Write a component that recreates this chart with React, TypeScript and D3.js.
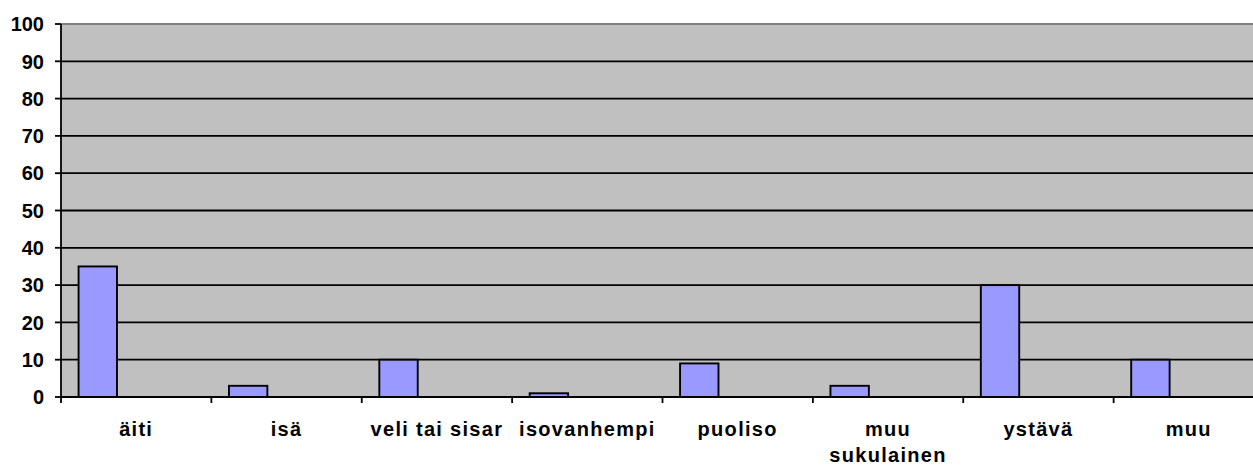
import React from "react";
import * as d3 from "d3";

const categories: string[][] = [
  ["äiti"],
  ["isä"],
  ["veli tai sisar"],
  ["isovanhempi"],
  ["puoliso"],
  ["muu", "sukulainen"],
  ["ystävä"],
  ["muu"],
];
const values: number[] = [35, 3, 10, 1, 9, 3, 30, 10];
const yTicks: number[] = [0, 10, 20, 30, 40, 50, 60, 70, 80, 90, 100];

const W = 1253;
const H = 466;
const left = 61;
const right = 1264;
const top = 24;
const bottom = 397;

export default function App() {
  const keys = categories.map((c, i) => String(i));
  const x = d3.scaleBand<string>().domain(keys).range([left, right]).padding(0);
  const y = d3.scaleLinear().domain([0, 100]).range([bottom, top]);
  const bw = x.bandwidth();
  const barW = bw / (3 + 0.915);
  const barOff = barW * 0.4575;
  const font = "'Liberation Sans', Arial, sans-serif";

  return (
    <svg
      width={W}
      height={H}
      style={{ position: "absolute", left: 0, top: 0, display: "block", background: "#fff" }}
    >
      <rect x={left} y={top} width={right - left} height={bottom - top} fill="#C0C0C0" />
      {yTicks.filter((t) => t > 0 && t < 100).map((t) => (
        <line key={t} x1={left} x2={right} y1={y(t)} y2={y(t)} stroke="#000" strokeWidth={1.8} />
      ))}
      <line x1={left} x2={right} y1={y(100)} y2={y(100)} stroke="#808080" strokeWidth={1.8} />
      {values.map((v, i) => (
        <rect
          key={i}
          x={(x(String(i)) as number) + barOff}
          y={y(v)}
          width={barW}
          height={y(0) - y(v)}
          fill="#9999FF"
          stroke="#000"
          strokeWidth={1.9}
        />
      ))}
      <line x1={left} x2={left} y1={top} y2={bottom} stroke="#000" strokeWidth={1.8} />
      <line x1={left} x2={right} y1={bottom} y2={bottom} stroke="#000" strokeWidth={1.8} />
      {yTicks.map((t) => (
        <g key={t}>
          <line x1={left - 6} x2={left} y1={y(t)} y2={y(t)} stroke="#000" strokeWidth={1.8} />
          <text
            x={44}
            y={y(t)}
            dy="0.36em"
            textAnchor="end"
            fontFamily={font}
            fontWeight="bold"
            fontSize={20}
            fill="#000"
          >
            {t}
          </text>
        </g>
      ))}
      {keys.map((k) => (
        <line
          key={k}
          x1={x(k) as number}
          x2={x(k) as number}
          y1={bottom}
          y2={bottom + 6}
          stroke="#000"
          strokeWidth={1.8}
        />
      ))}
      {categories.map((lines, i) => (
        <text
          key={i}
          x={(x(String(i)) as number) + bw / 2}
          y={436}
          textAnchor="middle"
          fontFamily={font}
          fontWeight="bold"
          fontSize={20}
          letterSpacing={1.3}
          fill="#000"
        >
          {lines.map((l, j) => (
            <tspan key={j} x={(x(String(i)) as number) + bw / 2} dy={j === 0 ? 0 : 26}>
              {l}
            </tspan>
          ))}
        </text>
      ))}
    </svg>
  );
}
